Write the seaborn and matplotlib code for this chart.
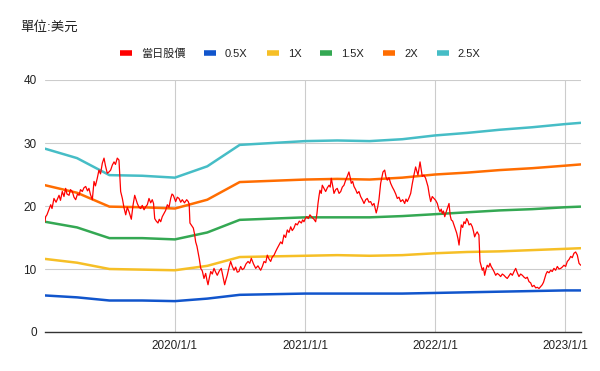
import numpy as np
import pandas as pd
import matplotlib
matplotlib.use("Agg")
import matplotlib.pyplot as plt
import matplotlib.dates as mdates
from matplotlib.ticker import FuncFormatter
from matplotlib.lines import Line2D
import seaborn as sns

# ---------------- data ----------------
# daily price samples: time in years since 2019-01-01, price in USD
price_t = [
    0.000, 0.005, 0.015, 0.044, 0.054, 0.069, 0.085, 0.108, 0.119, 0.133, 0.146, 0.159, 0.169, 0.185, 0.196,
    0.210, 0.223, 0.236, 0.250, 0.262, 0.273, 0.287, 0.300, 0.313, 0.327, 0.338, 0.350, 0.364, 0.377, 0.388,
    0.402, 0.415, 0.427, 0.441, 0.454, 0.465, 0.479, 0.492, 0.505, 0.518, 0.531, 0.542, 0.556, 0.569, 0.582,
    0.595, 0.608, 0.621, 0.633, 0.646, 0.664, 0.677, 0.690,
    0.710, 0.723, 0.736, 0.748, 0.762, 0.775, 0.787, 0.800, 0.813, 0.825, 0.835, 0.844, 0.856, 0.869, 0.879,
    0.890, 0.902, 0.915, 0.928, 0.941, 0.954, 0.967, 0.977, 0.987, 0.996, 1.005, 1.018, 1.031, 1.044, 1.056,
    1.073, 1.090, 1.102, 1.109, 1.115, 1.128, 1.141, 1.150, 1.159, 1.169, 1.177, 1.187, 1.198, 1.210, 1.223,
    1.236, 1.246, 1.254, 1.264, 1.275, 1.287, 1.300, 1.313, 1.325, 1.341, 1.356, 1.369, 1.382,
    1.392, 1.402, 1.415, 1.428, 1.441, 1.454, 1.467, 1.479, 1.492, 1.505, 1.518, 1.531, 1.546, 1.562, 1.575,
    1.587, 1.604, 1.621, 1.638, 1.659, 1.672, 1.685, 1.698, 1.710, 1.723, 1.736, 1.748, 1.762, 1.775, 1.787,
    1.800, 1.813, 1.825, 1.838, 1.851, 1.864, 1.877, 1.890, 1.902, 1.915, 1.928, 1.941, 1.956, 1.972, 1.982,
    1.992, 2.002, 2.013, 2.025, 2.038, 2.054, 2.069,
    2.082, 2.092, 2.100, 2.108, 2.115, 2.125, 2.133, 2.146, 2.159, 2.172, 2.185, 2.194, 2.202, 2.213, 2.223,
    2.236, 2.248, 2.262, 2.275, 2.287, 2.300, 2.313, 2.325, 2.338, 2.348, 2.356, 2.367, 2.377, 2.390, 2.402,
    2.415, 2.428, 2.441, 2.454, 2.467, 2.479, 2.492, 2.505, 2.518, 2.531, 2.540, 2.548, 2.559, 2.569, 2.582,
    2.592, 2.600, 2.613, 2.623, 2.633, 2.646, 2.659, 2.672, 2.685, 2.698, 2.710, 2.723, 2.736, 2.752, 2.767,
    2.777, 2.787, 2.800, 2.813, 2.825, 2.838, 2.851, 2.862, 2.869, 2.877, 2.885, 2.894, 2.902, 2.915, 2.928,
    2.938, 2.946, 2.956, 2.967, 2.979, 2.992, 3.005, 3.018, 3.028, 3.038, 3.048, 3.056, 3.065, 3.075, 3.085,
    3.095, 3.108, 3.117, 3.125, 3.136, 3.146, 3.156, 3.167, 3.177, 3.185, 3.194, 3.202, 3.213, 3.223, 3.233,
    3.244, 3.254, 3.262, 3.275, 3.287, 3.296, 3.305, 3.315, 3.325, 3.332, 3.338, 3.343, 3.346, 3.355, 3.364,
    3.373, 3.382, 3.392, 3.402, 3.413, 3.423, 3.432, 3.441, 3.454, 3.467,
    3.479, 3.492, 3.505, 3.518, 3.531, 3.544, 3.556, 3.569, 3.582, 3.595, 3.608, 3.621, 3.633, 3.646, 3.659,
    3.672, 3.685, 3.698, 3.710, 3.723, 3.736, 3.748, 3.762, 3.775, 3.787, 3.800, 3.813, 3.825, 3.835, 3.844,
    3.854, 3.864, 3.877, 3.890, 3.902, 3.915, 3.928, 3.941, 3.954, 3.967, 3.979, 3.992, 4.005, 4.018, 4.031,
    4.044, 4.056, 4.069, 4.082, 4.095, 4.102, 4.108, 4.121,
]
price_v = [
    17.5, 18.3, 18.6, 20.2, 19.6, 21.2, 20.6, 21.7, 20.9, 22.3, 21.5, 22.8, 21.9, 21.7, 22.6,
    22.3, 21.4, 21.0, 21.9, 21.7, 22.6, 22.3, 22.9, 23.1, 22.4, 22.8, 21.8, 21.0, 23.9, 23.2,
    24.4, 25.7, 25.1, 26.8, 27.6, 26.4, 25.2, 25.4, 25.7, 26.5, 27.0, 26.6, 27.6, 27.3, 22.3,
    21.2, 19.7, 18.6, 19.8, 19.1, 17.9, 20.1, 21.7,
    20.4, 19.8, 19.6, 20.1, 19.4, 19.9, 20.2, 21.2, 20.5, 21.0, 20.4, 18.0, 17.6, 17.3, 17.9,
    17.5, 18.3, 18.8, 19.3, 20.2, 19.8, 21.2, 21.9, 21.7, 21.2, 20.7, 21.4, 21.2, 20.6, 21.0,
    20.5, 21.0, 20.7, 20.3, 17.3, 16.9, 16.5, 15.6, 14.3, 13.6, 12.7, 11.6, 10.1, 9.7, 8.5,
    9.3, 8.2, 7.5, 8.6, 9.6, 9.2, 10.1, 9.5, 9.0, 9.7, 10.1, 8.8, 7.5,
    8.3, 9.0, 10.2, 11.2, 10.4, 9.8, 10.3, 9.5, 9.6, 10.4, 9.9, 10.1, 10.8, 11.2, 10.9,
    11.7, 10.8, 10.1, 10.5, 9.8, 10.4, 11.2, 11.0, 12.2, 11.6, 11.2, 11.9, 12.2, 12.8, 13.3,
    13.8, 14.3, 14.0, 15.4, 15.0, 16.2, 15.8, 16.7, 16.1, 16.5, 17.2, 17.0, 17.6, 17.3, 17.8,
    17.5, 18.0, 18.3, 18.0, 18.6, 18.2, 17.9,
    17.5, 18.8, 20.4, 21.6, 22.5, 22.0, 23.3, 22.8, 22.3, 22.9, 23.3, 23.0, 24.4, 23.2, 22.0,
    22.6, 22.8, 22.0, 22.3, 23.0, 23.3, 24.1, 24.7, 25.4, 24.5, 23.6, 23.9, 23.1, 22.6, 22.0,
    22.3, 21.5, 21.0, 20.4, 21.0, 21.2, 20.6, 20.7, 20.1, 20.4, 19.6, 18.9, 19.8, 21.0, 23.6,
    24.6, 25.4, 25.7, 24.6, 24.1, 24.5, 23.6, 23.0, 22.5, 21.9, 21.2, 21.4, 20.7, 21.0, 20.4,
    21.1, 20.7, 21.3, 22.0, 23.5, 24.9, 26.2, 25.4, 24.9, 26.0, 27.0, 25.8, 24.7, 24.9, 24.4,
    23.7, 23.1, 21.8, 20.7, 21.5, 21.2, 20.9, 20.4, 19.6, 19.1, 19.5, 18.8, 19.2, 18.3, 19.0,
    19.6, 20.4, 18.5, 17.8, 17.6, 17.0, 16.4, 15.7, 14.8, 13.8, 15.5, 17.0, 16.6, 17.5, 17.2,
    18.0, 17.6, 17.0, 17.2, 16.7, 16.0, 15.1, 15.6, 15.9, 15.6, 15.4, 13.0, 11.2, 10.5, 9.8,
    10.2, 9.0, 9.9, 10.6, 10.3, 10.9, 10.4, 10.1, 9.6, 9.0,
    9.3, 9.1, 8.8, 9.2, 9.0, 8.7, 8.5, 8.9, 9.3, 9.0, 9.6, 10.1, 9.4, 8.8, 9.2,
    9.0, 8.7, 8.5, 8.7, 8.0, 7.8, 7.2, 7.4, 7.0, 7.1, 6.9, 7.2, 7.5, 7.9, 8.5,
    9.2, 9.6, 9.4, 9.8, 9.6, 10.1, 9.8, 10.4, 10.0, 10.1, 10.3, 10.6, 10.4, 11.2, 11.5,
    12.0, 11.8, 12.5, 12.7, 12.2, 11.5, 10.9, 10.6,
]

# quarterly valuation band nodes
band_dates = ["2019-01-01", "2019-04-01", "2019-07-01", "2019-10-01", "2020-01-01", "2020-04-01",
              "2020-07-01", "2020-10-01", "2021-01-01", "2021-04-01", "2021-07-01", "2021-10-01",
              "2022-01-01", "2022-04-01", "2022-07-01", "2022-10-01", "2023-01-01", "2023-02-14"]
band_05 = [5.8, 5.5, 5.0, 5.0, 4.9, 5.3, 5.9, 6.0, 6.1, 6.1, 6.1, 6.1, 6.2, 6.3, 6.4, 6.5, 6.6, 6.6]
band_10 = [11.6, 11.0, 10.0, 9.9, 9.8, 10.5, 11.9, 12.0, 12.1, 12.2, 12.1, 12.2, 12.5, 12.7, 12.8, 13.0, 13.2, 13.3]
band_15 = [17.5, 16.6, 14.9, 14.9, 14.7, 15.8, 17.8, 18.0, 18.2, 18.2, 18.2, 18.4, 18.7, 19.0, 19.3, 19.5, 19.8, 19.9]
band_20 = [23.3, 22.1, 19.9, 19.8, 19.6, 21.0, 23.8, 24.0, 24.2, 24.3, 24.2, 24.5, 25.0, 25.3, 25.7, 26.0, 26.4, 26.6]
band_25 = [29.1, 27.6, 24.9, 24.8, 24.5, 26.3, 29.7, 30.0, 30.3, 30.4, 30.3, 30.6, 31.2, 31.6, 32.1, 32.5, 33.0, 33.2]

series_labels = ["當日股價", "0.5X", "1X", "1.5X", "2X", "2.5X"]
series_colors = ["#ff0000", "#1155cc", "#f6bf26", "#34a853", "#ff6d01", "#46bdc6"]
title_text = "單位:美元"
x_ticks = ["2020-01-01", "2021-01-01", "2022-01-01", "2023-01-01"]
y_ticks = [0, 10, 20, 30, 40]

# ---------------- build frames ----------------
base = pd.Timestamp("2019-01-01")
price_df = pd.DataFrame({
    "date": base + pd.to_timedelta(np.array(price_t) * 365.25, unit="D"),
    "value": price_v,
})
bd = pd.to_datetime(band_dates)
band_df = pd.concat([
    pd.DataFrame({"date": bd, "value": vals, "series": lab})
    for lab, vals in zip(series_labels[1:], [band_05, band_10, band_15, band_20, band_25])
], ignore_index=True)

# ---------------- plot ----------------
sns.set_theme(style="white")
plt.rcParams["font.family"] = ["Liberation Sans", "Noto Sans CJK TC", "DejaVu Sans"]

fig = plt.figure(figsize=(6.0, 3.71), dpi=100)
ax = fig.add_axes([45 / 600, 1 - 332 / 371, (581 - 45) / 600, (332 - 80) / 371])

pal = dict(zip(series_labels, series_colors))
sns.lineplot(data=band_df, x="date", y="value", hue="series", hue_order=series_labels[1:],
             palette=pal, linewidth=1.8, ax=ax, legend=False, estimator=None)
sns.lineplot(data=price_df, x="date", y="value", color=pal["當日股價"], linewidth=0.9,
             ax=ax, legend=False, estimator=None)

ax.set_xlim(pd.Timestamp("2019-01-01"), pd.Timestamp("2023-02-15"))
ax.set_ylim(0, 40)
ax.set_yticks(y_ticks)
ax.set_xticks(pd.to_datetime(x_ticks))
ax.xaxis.set_major_formatter(FuncFormatter(
    lambda v, p: (lambda d: f"{d.year}/{d.month}/{d.day}")(mdates.num2date(v))))
ax.set_xlabel("")
ax.set_ylabel("")
ax.grid(True, color="#cccccc", linewidth=0.8)
ax.set_axisbelow(True)
for s in ["top", "right", "left"]:
    ax.spines[s].set_visible(False)
ax.spines["bottom"].set_color("#333333")
ax.spines["bottom"].set_linewidth(1.0)
ax.tick_params(axis="both", length=0, labelsize=8.5, colors="#222222", pad=6)

# legend
handles = [Line2D([0], [0], color=c, linewidth=4, solid_capstyle="butt") for c in series_colors]
fig.legend(handles, series_labels, loc="center", bbox_to_anchor=(0.5, 1 - 54 / 371), ncol=6,
           frameon=False, fontsize=8, handlelength=1.1, handletextpad=0.8, columnspacing=1.7,
           labelcolor="#222222")

fig.text(20.5 / 600, 1 - 27.5 / 371, title_text, fontsize=9.7, color="#222222", va="center", ha="left")

fig.savefig("out.png", dpi=100, facecolor="white")
